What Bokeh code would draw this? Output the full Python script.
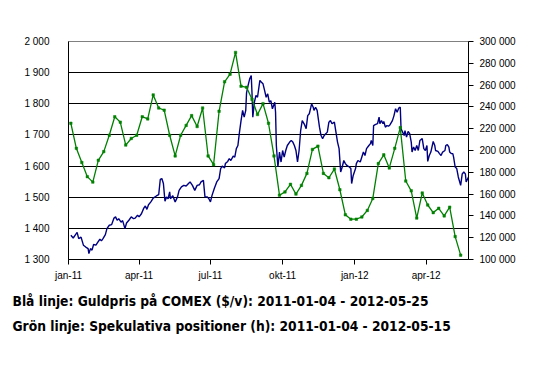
import pandas as pd
from bokeh.plotting import figure
from bokeh.models import Range1d, LinearAxis, FixedTicker, Title
from bokeh.embed import file_html
from bokeh.resources import INLINE

# ---- data ----
blue_dates = [
    "2011-01-04", "2011-01-07", "2011-01-10", "2011-01-12", "2011-01-14", "2011-01-17", "2011-01-20",
    "2011-01-23", "2011-01-26", "2011-01-27", "2011-01-29", "2011-01-31", "2011-02-02", "2011-02-05",
    "2011-02-07", "2011-02-10", "2011-02-12", "2011-02-14", "2011-02-17", "2011-02-19", "2011-02-22",
    "2011-02-25", "2011-02-28", "2011-03-02", "2011-03-04", "2011-03-06", "2011-03-09", "2011-03-11",
    "2011-03-14", "2011-03-16", "2011-03-19", "2011-03-22", "2011-03-25", "2011-03-27", "2011-03-30",
    "2011-04-01", "2011-04-04", "2011-04-07", "2011-04-09", "2011-04-11", "2011-04-13", "2011-04-16",
    "2011-04-19", "2011-04-23", "2011-04-26", "2011-04-28", "2011-04-30", "2011-05-02", "2011-05-04",
    "2011-05-06", "2011-05-08", "2011-05-10", "2011-05-11", "2011-05-14", "2011-05-17", "2011-05-20",
    "2011-05-22", "2011-05-25", "2011-05-28", "2011-05-31", "2011-06-03", "2011-06-05", "2011-06-08",
    "2011-06-11", "2011-06-14", "2011-06-17", "2011-06-19", "2011-06-22", "2011-06-24", "2011-06-27",
    "2011-06-29", "2011-07-01", "2011-07-03", "2011-07-06", "2011-07-09", "2011-07-12", "2011-07-14",
    "2011-07-16", "2011-07-19", "2011-07-20", "2011-07-23", "2011-07-25", "2011-07-27", "2011-07-30",
    "2011-08-01", "2011-08-03", "2011-08-05", "2011-08-07", "2011-08-09", "2011-08-11", "2011-08-13",
    "2011-08-15", "2011-08-16", "2011-08-18", "2011-08-20", "2011-08-22", "2011-08-23", "2011-08-24",
    "2011-08-26", "2011-08-28", "2011-08-30", "2011-09-02", "2011-09-04", "2011-09-06", "2011-09-08",
    "2011-09-10", "2011-09-12", "2011-09-14", "2011-09-16", "2011-09-18", "2011-09-21", "2011-09-22",
    "2011-09-23", "2011-09-25", "2011-09-27", "2011-09-29", "2011-10-01", "2011-10-03", "2011-10-05",
    "2011-10-07", "2011-10-10", "2011-10-12", "2011-10-14", "2011-10-16", "2011-10-18", "2011-10-20",
    "2011-10-22", "2011-10-24", "2011-10-26", "2011-10-29", "2011-10-31", "2011-11-02", "2011-11-04",
    "2011-11-06", "2011-11-07", "2011-11-09", "2011-11-10", "2011-11-12", "2011-11-14", "2011-11-17",
    "2011-11-19", "2011-11-21", "2011-11-23", "2011-11-25", "2011-11-27", "2011-11-29", "2011-12-01",
    "2011-12-03", "2011-12-06", "2011-12-08", "2011-12-10", "2011-12-12", "2011-12-14", "2011-12-16",
    "2011-12-18", "2011-12-20", "2011-12-22", "2011-12-25", "2011-12-27", "2011-12-28", "2011-12-30",
    "2012-01-02", "2012-01-03", "2012-01-05", "2012-01-08", "2012-01-10", "2012-01-12", "2012-01-14",
    "2012-01-16", "2012-01-19", "2012-01-21", "2012-01-22", "2012-01-24", "2012-01-25", "2012-01-27",
    "2012-01-30", "2012-02-01", "2012-02-02", "2012-02-04", "2012-02-06", "2012-02-07", "2012-02-09",
    "2012-02-11", "2012-02-13", "2012-02-15", "2012-02-18", "2012-02-20", "2012-02-22", "2012-02-24",
    "2012-02-26", "2012-02-28", "2012-02-29", "2012-03-02", "2012-03-04", "2012-03-05", "2012-03-07",
    "2012-03-09", "2012-03-11", "2012-03-13", "2012-03-14", "2012-03-16", "2012-03-18", "2012-03-20",
    "2012-03-22", "2012-03-24", "2012-03-27", "2012-03-29", "2012-03-31", "2012-04-02", "2012-04-03",
    "2012-04-05", "2012-04-07", "2012-04-10", "2012-04-12", "2012-04-13", "2012-04-16", "2012-04-18",
    "2012-04-20", "2012-04-22", "2012-04-25", "2012-04-26", "2012-04-28", "2012-04-30", "2012-05-01",
    "2012-05-03", "2012-05-05", "2012-05-06", "2012-05-08", "2012-05-10", "2012-05-12", "2012-05-15",
    "2012-05-17", "2012-05-19", "2012-05-21", "2012-05-22", "2012-05-25",
]
blue_price = [
    1378, 1369, 1380, 1387, 1367, 1372, 1346,
    1340, 1335, 1319, 1335, 1330, 1348, 1346,
    1354, 1365, 1360, 1367, 1380, 1399, 1410,
    1412, 1433, 1437, 1426, 1431, 1420, 1425,
    1399, 1417, 1426, 1437, 1431, 1433, 1442,
    1437, 1447, 1465, 1472, 1461, 1476, 1485,
    1497, 1504, 1508, 1557, 1560, 1544, 1487,
    1501, 1495, 1517, 1495, 1505, 1485, 1501,
    1522, 1533, 1538, 1536, 1544, 1549, 1538,
    1522, 1538, 1540, 1549, 1554, 1501, 1501,
    1495, 1485, 1506, 1529, 1549, 1560, 1592,
    1600, 1594, 1608, 1615, 1624, 1618, 1632,
    1629, 1656, 1666, 1709, 1746, 1779, 1757,
    1779, 1835, 1859, 1880, 1891, 1832, 1757,
    1805, 1827, 1821, 1875, 1869, 1864, 1843,
    1821, 1832, 1805, 1810, 1784, 1805, 1773,
    1666, 1597, 1645, 1613, 1650, 1629, 1650,
    1666, 1677, 1682, 1677, 1666, 1650, 1613,
    1650, 1714, 1746, 1733, 1720, 1762, 1768,
    1789, 1800, 1789, 1779, 1789, 1779, 1725,
    1698, 1688, 1698, 1704, 1709, 1741, 1746,
    1736, 1741, 1709, 1677, 1656, 1581, 1597,
    1618, 1608, 1602, 1597, 1592, 1544, 1570,
    1592, 1608, 1618, 1613, 1629, 1645, 1634,
    1656, 1666, 1672, 1682, 1666, 1730, 1733,
    1736, 1757, 1736, 1746, 1736, 1743, 1725,
    1730, 1728, 1733, 1746, 1762, 1784, 1773,
    1786, 1789, 1720, 1709, 1698, 1714, 1693,
    1711, 1704, 1677, 1645, 1661, 1650, 1666,
    1650, 1682, 1688, 1656, 1650, 1666, 1615,
    1634, 1645, 1679, 1666, 1650, 1647, 1640,
    1634, 1645, 1650, 1666, 1669, 1661, 1645,
    1640, 1640, 1629, 1597, 1592, 1565, 1538,
    1575, 1581, 1575, 1549, 1565,
]

green_start = "2011-01-04"   # weekly (Tuesday) observations
green_positions = [
    225000, 202000, 189000, 176000, 171000, 191000, 199000, 214000, 231000, 226000,
    205000, 211000, 214000, 231000, 229000, 251000, 239000, 237000, 214000, 195000,
    214000, 223000, 232000, 222000, 239000, 195000, 187000, 236000, 263000, 270000,
    290000, 259000, 258000, 247000, 233000, 243000, 225000, 195000, 159000, 162000,
    169000, 160000, 168000, 179000, 201000, 204000, 179000, 175000, 183000, 164000,
    141000, 137000, 137000, 139000, 145000, 156000, 188000, 196000, 184000, 202000,
    221000, 172000, 163000, 138000, 161000, 150000, 143000, 147000, 140000, 148000,
    121000, 104000,
]

left_ticks = [1300, 1400, 1500, 1600, 1700, 1800, 1900, 2000]
left_labels = ["1 300", "1 400", "1 500", "1 600", "1 700", "1 800", "1 900", "2 000"]
right_ticks = [100000, 120000, 140000, 160000, 180000, 200000, 220000, 240000, 260000, 280000, 300000]
right_labels = ["100 000", "120 000", "140 000", "160 000", "180 000", "200 000",
                "220 000", "240 000", "260 000", "280 000", "300 000"]
x_tick_dates = ["2011-01-01", "2011-04-01", "2011-07-01", "2011-10-01", "2012-01-01", "2012-04-01"]
x_tick_labels = ["jan-11", "apr-11", "jul-11", "okt-11", "jan-12", "apr-12"]
x_start, x_end = "2011-01-01", "2012-05-25"

caption_blue = "Blå linje: Guldpris på COMEX ($/v): 2011-01-04 - 2012-05-25"
caption_green = "Grön linje: Spekulativa positioner (h): 2011-01-04 - 2012-05-15"


def ms(d):
    return pd.Timestamp(d).value / 1e6


green_dates = pd.date_range(green_start, periods=len(green_positions), freq="7D")

p = figure(width=527, height=353, x_axis_type="datetime",
           x_range=Range1d(ms(x_start), ms(x_end)), y_range=Range1d(1300, 2000),
           output_backend="svg", toolbar_location=None,
           min_border_left=68, min_border_right=59, min_border_top=41, min_border_bottom=94)
p.extra_y_ranges = {"pos": Range1d(100000, 300000)}
p.background_fill_color = "white"
p.border_fill_color = "white"
p.outline_line_color = "#808080"

LABEL_FONT = "Liberation Sans"

# left axis
ya = p.yaxis[0]
ya.ticker = FixedTicker(ticks=left_ticks)
ya.major_label_overrides = dict(zip(left_ticks, left_labels))
ya.major_tick_out = 0
ya.major_tick_in = 0
ya.minor_tick_out = 0
ya.minor_tick_in = 0
ya.major_label_standoff = 19
ya.axis_line_color = "black"
ya.major_label_text_font = LABEL_FONT
ya.major_label_text_font_size = "10px"
ya.major_label_text_color = "black"

# right axis
ra = LinearAxis(y_range_name="pos", ticker=FixedTicker(ticks=right_ticks))
ra.major_label_overrides = dict(zip(right_ticks, right_labels))
ra.major_tick_out = 5
ra.major_tick_in = 0
ra.minor_tick_out = 0
ra.minor_tick_in = 0
ra.major_label_standoff = 6
ra.axis_line_color = "black"
ra.major_tick_line_color = "black"
ra.major_label_text_font = LABEL_FONT
ra.major_label_text_font_size = "10px"
ra.major_label_text_color = "black"
p.add_layout(ra, "right")

# x axis
xa = p.xaxis[0]
xt = [ms(d) for d in x_tick_dates]
xa.ticker = FixedTicker(ticks=xt)
xa.major_label_overrides = dict(zip(xt, x_tick_labels))
xa.major_tick_out = 5
xa.major_tick_in = 0
xa.minor_tick_out = 0
xa.minor_tick_in = 0
xa.major_label_standoff = 5
xa.axis_line_color = "black"
xa.major_tick_line_color = "black"
xa.major_label_text_font = LABEL_FONT
xa.major_label_text_font_size = "10px"
xa.major_label_text_color = "black"

p.xgrid.visible = False
p.ygrid.ticker = FixedTicker(ticks=left_ticks[1:-1])
p.ygrid.grid_line_color = "black"
p.ygrid.grid_line_width = 1

p.line(pd.to_datetime(blue_dates), blue_price, line_color="#000080", line_width=1.4)
p.line(green_dates, green_positions, y_range_name="pos", line_color="#008000", line_width=1.3)
p.scatter(green_dates, green_positions, y_range_name="pos", marker="square", size=2.5,
          fill_color="#008000", line_color="#008000", line_width=0.5)

CAP_FONT = "DejaVu Sans Condensed"
for txt, so in [(caption_blue, 14), (caption_green, 0)]:
    p.add_layout(Title(text=txt, align="left", offset=-56, standoff=so,
                       text_font=CAP_FONT, text_font_size="13.7px", text_font_style="bold",
                       text_color="black"), "below")

open("out.html", "w").write(file_html(p, INLINE))
